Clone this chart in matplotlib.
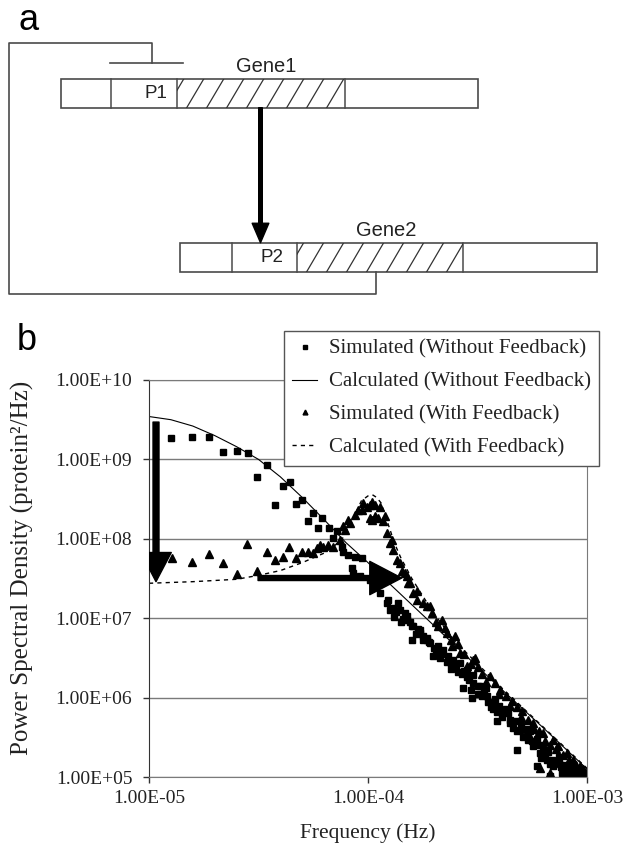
import numpy as np
import matplotlib
matplotlib.use("Agg")
import matplotlib.pyplot as plt
from matplotlib.patches import Rectangle, FancyArrowPatch

# ---- panel b data as log10 values ----
# calculated PSD without feedback (solid line)
calc_nofb_logf = [-5.0, -4.9, -4.8, -4.7, -4.6, -4.5, -4.4, -4.3, -4.2, -4.1,
                  -4.0, -3.9, -3.8, -3.6, -3.4, -3.2, -3.0]
calc_nofb_logS = [9.54, 9.50, 9.42, 9.30, 9.16, 9.00, 8.78, 8.52, 8.24, 7.95,
                  7.70, 7.43, 7.17, 6.65, 6.13, 5.62, 5.10]

# calculated PSD with feedback (dashed line)
calc_fb_logf = [-5.0, -4.8, -4.6, -4.5, -4.4, -4.3, -4.2, -4.15, -4.1, -4.06,
                -4.03, -4.0, -3.98, -3.96, -3.94, -3.92, -3.9, -3.88, -3.85,
                -3.8, -3.75, -3.7, -3.6, -3.4, -3.2, -3.0]
calc_fb_logS = [7.44, 7.46, 7.49, 7.54, 7.60, 7.70, 7.82, 7.92, 8.05, 8.30,
                8.48, 8.54, 8.555, 8.52, 8.45, 8.28, 8.12, 7.95, 7.76,
                7.50, 7.28, 7.06, 6.70, 6.15, 5.63, 5.11]

# simulated without feedback (squares): (log10 f, log10 S)
sim_nofb = [
    (-4.900, 9.267), (-4.805, 9.287), (-4.726, 9.287), (-4.661, 9.091), (-4.600, 9.107),
    (-4.549, 9.078), (-4.463, 8.931), (-4.505, 8.784), (-4.389, 8.670), (-4.356, 8.721),
    (-4.425, 8.428), (-4.330, 8.437), (-4.300, 8.491), (-4.275, 8.226),
    (-4.250, 8.323), (-4.211, 8.260), (-4.227, 8.135), (-4.177, 8.135), (-4.143, 8.092),
    (-4.158, 8.009), (-4.120, 7.903), (-4.113, 7.840), (-4.090, 7.799), (-4.059, 7.777),
    (-4.029, 7.757), (-4.074, 7.631), (-4.067, 7.569), (-4.037, 7.526), (-3.991, 7.484),
    (-3.945, 7.317), (-3.907, 7.233), (-3.884, 7.128), (-3.854, 7.107), (-3.823, 7.023),
    (-3.800, 6.730), (-3.793, 6.897), (-3.763, 6.814), (-3.732, 6.730),
    (-3.915, 7.191), (-3.862, 7.191), (-3.900, 7.107), (-3.831, 7.065), (-3.823, 6.981),
    (-3.763, 6.855), (-3.747, 6.730), (-3.717, 6.688), (-3.702, 6.519), (-3.679, 6.645),
    (-3.656, 6.604), (-3.633, 6.519), (-3.611, 6.478), (-3.580, 6.436), (-3.549, 6.352),
    (-3.519, 6.289), (-3.611, 6.394), (-3.565, 6.122), (-3.526, 5.996), (-3.489, 6.142),
    (-3.458, 6.016), (-3.428, 5.933), (-3.412, 5.702), (-3.382, 5.808), (-3.352, 5.723),
    (-3.321, 5.346), (-3.306, 5.597), (-3.275, 5.513), (-3.245, 5.387), (-3.215, 5.304),
    (-3.184, 5.220), (-3.154, 5.136), (-3.116, 5.053), (-3.078, 5.073), (-3.047, 5.031),
    (-3.017, 5.053), (-3.230, 5.136), (-3.169, 5.010),
    (-3.88, 7.02), (-3.85, 6.95), (-3.80, 6.90), (-3.78, 6.80), (-3.73, 6.75),
    (-3.70, 6.62), (-3.66, 6.55), (-3.64, 6.45), (-3.60, 6.40), (-3.57, 6.30),
    (-3.54, 6.22), (-3.50, 6.15), (-3.50, 6.05), (-3.47, 6.08), (-3.45, 5.95),
    (-3.44, 5.88), (-3.40, 5.90), (-3.39, 5.75), (-3.36, 5.80), (-3.34, 5.62),
    (-3.30, 5.66), (-3.29, 5.50), (-3.26, 5.58), (-3.25, 5.45), (-3.22, 5.40),
    (-3.20, 5.35), (-3.19, 5.28), (-3.16, 5.22), (-3.14, 5.18), (-3.12, 5.12),
    (-3.10, 5.15), (-3.09, 5.05), (-3.06, 5.08), (-3.04, 5.05), (-3.02, 5.02),
    (-3.00, 5.04), (-3.03, 5.10), (-3.07, 5.14), (-3.13, 5.25), (-3.18, 5.32),
    (-3.23, 5.48), (-3.28, 5.60), (-3.33, 5.70), (-3.37, 5.86), (-3.42, 5.98),
    (-3.46, 6.12), (-3.52, 6.18), (-3.56, 6.34), (-3.62, 6.44),
    (-3.87, 7.08), (-3.84, 6.99), (-3.81, 6.95), (-3.77, 6.87), (-3.75, 6.78),
    (-3.72, 6.70), (-3.69, 6.58), (-3.67, 6.50), (-3.62, 6.36), (-3.59, 6.32),
    (-3.55, 6.26), (-3.53, 6.10), (-3.48, 6.02), (-3.43, 5.86), (-3.41, 5.82),
    (-3.35, 5.68), (-3.32, 5.58), (-3.27, 5.46), (-3.24, 5.42), (-3.21, 5.24),
    (-3.17, 5.16), (-3.11, 5.08), (-3.08, 5.02), (-3.05, 5.00),
]

# simulated with feedback (triangles): (log10 f, log10 S)
sim_fb = [
    (-4.896, 7.757), (-4.805, 7.702), (-4.726, 7.808), (-4.661, 7.694), (-4.600, 7.560),
    (-4.551, 7.937), (-4.508, 7.589), (-4.463, 7.828), (-4.425, 7.736), (-4.389, 7.777),
    (-4.359, 7.903), (-4.330, 7.757), (-4.300, 7.828), (-4.273, 7.828), (-4.250, 7.820),
    (-4.234, 7.883), (-4.219, 7.925), (-4.204, 7.903), (-4.181, 7.925), (-4.158, 7.903),
    (-4.128, 7.987), (-4.113, 8.155), (-4.105, 8.113), (-4.090, 8.239), (-4.082, 8.197),
    (-4.059, 8.302), (-4.044, 8.365), (-4.029, 8.365), (-4.021, 8.449), (-4.006, 8.406),
    (-3.991, 8.428), (-3.983, 8.469), (-3.968, 8.428), (-3.945, 8.406), (-3.991, 8.260),
    (-3.983, 8.239), (-3.968, 8.281), (-3.953, 8.260), (-3.930, 8.218), (-3.922, 8.281),
    (-3.915, 8.072), (-3.900, 7.946), (-3.892, 7.987), (-3.884, 7.862), (-3.869, 7.736),
    (-3.854, 7.694), (-3.846, 7.589), (-3.831, 7.569), (-3.823, 7.526), (-3.816, 7.443),
    (-3.808, 7.443), (-3.793, 7.317), (-3.778, 7.337), (-3.778, 7.233), (-3.747, 7.191),
    (-3.732, 7.148), (-3.717, 7.148), (-3.709, 7.065), (-3.663, 6.981), (-3.679, 6.897),
    (-3.641, 6.814), (-3.603, 6.771), (-3.618, 6.645), (-3.580, 6.562), (-3.519, 6.478),
    (-3.549, 6.394), (-3.511, 6.499), (-3.443, 6.268), (-3.397, 6.101), (-3.344, 5.953),
    (-3.298, 5.828), (-3.245, 5.682), (-3.200, 5.556), (-3.154, 5.472), (-3.131, 5.387),
    (-3.093, 5.304), (-3.063, 5.220), (-3.032, 5.136), (-3.215, 5.116), (-3.169, 5.053),
    (-3.69, 6.95), (-3.65, 6.88), (-3.62, 6.72), (-3.59, 6.68), (-3.56, 6.55),
    (-3.53, 6.42), (-3.50, 6.38), (-3.48, 6.30), (-3.46, 6.20), (-3.42, 6.18),
    (-3.40, 6.05), (-3.37, 6.02), (-3.35, 5.90), (-3.32, 5.88), (-3.30, 5.75),
    (-3.27, 5.72), (-3.24, 5.60), (-3.22, 5.58), (-3.19, 5.45), (-3.17, 5.40),
    (-3.14, 5.35), (-3.11, 5.28), (-3.08, 5.22), (-3.05, 5.15), (-3.02, 5.10),
    (-3.00, 5.06), (-3.12, 5.18), (-3.26, 5.50), (-3.38, 5.85),
]

# arrows drawn on the plot (log10 f, log10 S) start -> end
drop_arrow = [(-4.968, 9.47), (-4.968, 7.46)]
shift_arrow = [(-4.502, 7.506), (-3.846, 7.506)]

x_ticks = [1e-5, 1e-4, 1e-3]
x_labels = ["1.00E-05", "1.00E-04", "1.00E-03"]
y_ticks = [1e5, 1e6, 1e7, 1e8, 1e9, 1e10]
y_labels = ["1.00E+05", "1.00E+06", "1.00E+07", "1.00E+08", "1.00E+09", "1.00E+10"]

legend_labels = ["Simulated (Without Feedback)", "Calculated (Without Feedback)",
                 "Simulated (With Feedback)", "Calculated (With Feedback)"]

W, H = 625, 846
fig = plt.figure(figsize=(W / 100, H / 100), dpi=100)

# ---------------- panel a: gene circuit diagram (pixel coordinates) ----------------
dg = fig.add_axes([0, 0, 1, 1], zorder=0)
dg.set_xlim(0, W)
dg.set_ylim(H, 0)
dg.axis("off")
sans = "Liberation Sans"
edge = "#4a4a4a"


def gene_box(x0, x1, y0, y1, d1, d2, h_end):
    dg.add_patch(Rectangle((x0, y0), x1 - x0, y1 - y0, fc="white", ec=edge, lw=1.2))
    for xd in (d1, d2, h_end):
        dg.plot([xd, xd], [y0, y1], color=edge, lw=1.1)
    clip = Rectangle((d2, y0), h_end - d2, y1 - y0, transform=dg.transData)
    for xs in np.arange(d2 - 10, h_end + 5, 20):
        ln, = dg.plot([xs, xs + 17], [y1, y0], color="#333333", lw=0.9)
        ln.set_clip_path(clip)


gene_box(61, 478, 79, 107.7, 111, 176.7, 345)
gene_box(180, 597, 242.7, 271.7, 231.7, 296.7, 463.3)

# feedback repression line
dg.plot([375.7, 375.7, 8.5, 8.5, 152.3, 152.3], [271.7, 294.3, 294.3, 43.3, 43.3, 62.7],
        color=edge, lw=1.2)
dg.plot([110, 182.7], [62.7, 62.7], color=edge, lw=1.2)

# activation arrow gene1 -> P2
dg.add_patch(FancyArrowPatch((260.5, 107.7), (260.5, 242.7),
                             arrowstyle="simple,head_length=14,head_width=12,tail_width=2.6",
                             mutation_scale=1, color="black", shrinkA=0, shrinkB=0))

dg.text(266.5, 66.5, "Gene1", family=sans, fontsize=14.5, ha="center", va="center", color="#222222")
dg.text(386.5, 230, "Gene2", family=sans, fontsize=14.5, ha="center", va="center", color="#222222")
dg.text(156, 94, "P1", family=sans, fontsize=13.5, ha="center", va="center", color="#222222")
dg.text(272, 258, "P2", family=sans, fontsize=13.5, ha="center", va="center", color="#222222")
dg.text(29, 21, "a", family=sans, fontsize=26, ha="center", va="center")
dg.text(27, 341, "b", family=sans, fontsize=26, ha="center", va="center")

# ---------------- panel b: power spectral density ----------------
serif = "Liberation Serif"
ax = fig.add_axes([149 / W, 1 - 777 / H, 438 / W, 397 / H], zorder=1)
ax.set_xscale("log")
ax.set_yscale("log")
ax.set_xlim(1e-5, 1e-3)
ax.set_ylim(1e5, 1e10)

sq = np.array(sim_nofb)
tr = np.array(sim_fb)
h_sq, = ax.plot(10 ** sq[:, 0], 10 ** sq[:, 1], ls="none", marker="s", ms=5.0,
                color="black", mec="black")
h_solid, = ax.plot(10 ** np.array(calc_nofb_logf), 10 ** np.array(calc_nofb_logS),
                   color="black", lw=0.8)
h_tr, = ax.plot(10 ** tr[:, 0], 10 ** tr[:, 1], ls="none", marker="^", ms=5.8,
                color="black", mec="black")
h_dash, = ax.plot(10 ** np.array(calc_fb_logf), 10 ** np.array(calc_fb_logS),
                  color="black", lw=1.0, ls=(0, (3, 3)))

for arr, tw, hw, hl in [(drop_arrow, 4.3, 22, 21), (shift_arrow, 3.6, 24, 23)]:
    (fa, sa), (fb, sb) = arr
    ax.add_patch(FancyArrowPatch((10 ** fa, 10 ** sa), (10 ** fb, 10 ** sb),
                                 arrowstyle=f"simple,head_length={hl},head_width={hw},tail_width={tw}",
                                 mutation_scale=1, color="black", shrinkA=0, shrinkB=0, zorder=5))

ax.set_xticks(x_ticks)
ax.set_xticklabels(x_labels)
ax.set_yticks(y_ticks)
ax.set_yticklabels(y_labels)
ax.minorticks_off()
ax.tick_params(axis="both", direction="out", length=4, width=1, colors="#333333",
               labelcolor="#222222", labelsize=14)
ax.tick_params(axis="x", pad=5)
ax.tick_params(axis="y", pad=8)
for lab in ax.get_xticklabels() + ax.get_yticklabels():
    lab.set_family(serif)

ax.grid(axis="y", color="#7a7a7a", lw=1.0)
ax.set_axisbelow(True)
for side in ["top", "right", "bottom"]:
    ax.spines[side].set_color("#7a7a7a")
ax.spines["left"].set_color("#333333")

ax.set_xlabel("Frequency (Hz)", family=serif, fontsize=15.5, color="#222222")
ax.set_ylabel("Power Spectral Density (protein\u00b2/Hz)", family=serif, fontsize=18,
              color="#222222")
ax.xaxis.set_label_coords(0.5, -0.116)
ax.yaxis.set_label_coords(-0.262, 0.528)

leg = ax.legend([h_sq, h_solid, h_tr, h_dash], legend_labels,
                loc="upper right", bbox_to_anchor=(599 / W, 1 - 331 / H),
                bbox_transform=fig.transFigure, borderaxespad=0,
                prop={"family": serif, "size": 15}, frameon=True, fancybox=False,
                edgecolor="#555555", framealpha=1, markerscale=0.6,
                handlelength=1.2, handletextpad=0.55, labelspacing=0.64,
                borderpad=0.4)
leg.get_frame().set_linewidth(1.0)
for t in leg.get_texts():
    t.set_color("#222222")

fig.savefig("out.png", dpi=100)
